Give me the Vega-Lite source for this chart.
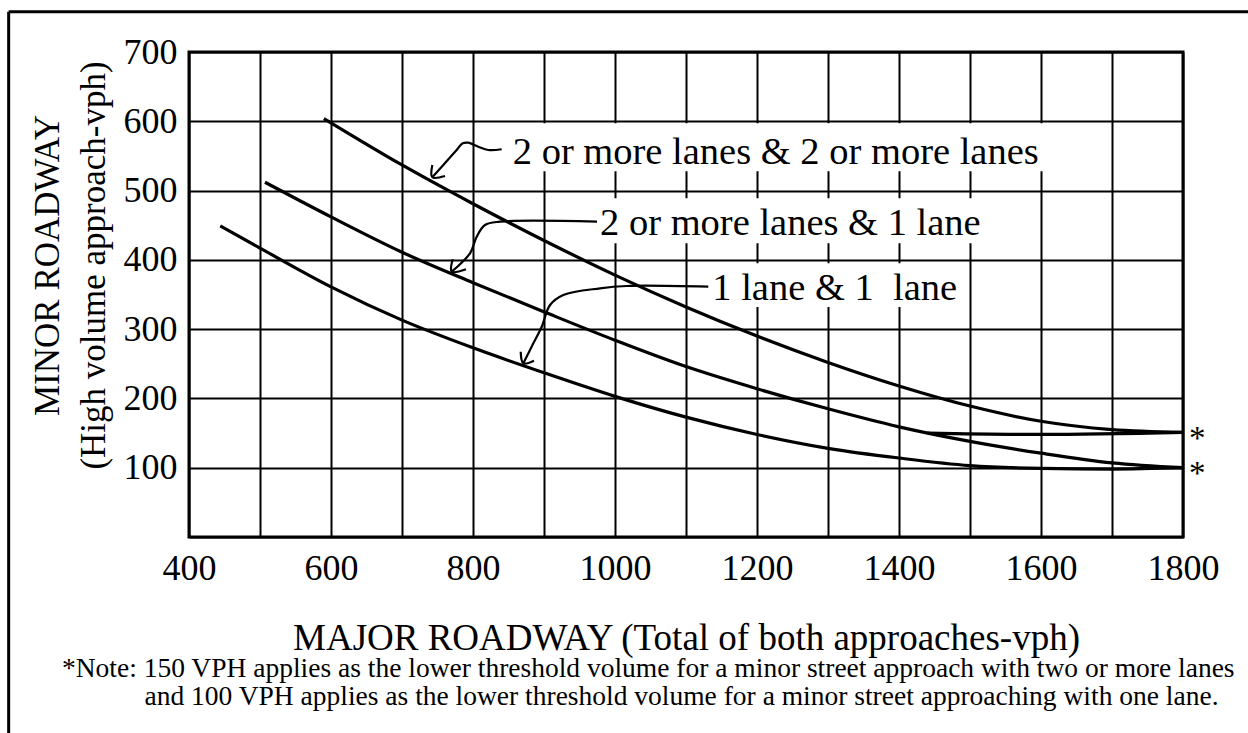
{
  "$schema": "https://vega.github.io/schema/vega-lite/v6.json",
  "width": 994,
  "height": 485,
  "autosize": {"type": "none"},
  "padding": {"left": 189, "top": 52, "right": 65, "bottom": 196},
  "background": "white",
  "config": {
    "view": {"stroke": "black", "strokeWidth": 3},
    "font": "Liberation Serif",
    "axis": {"labelFont": "Liberation Serif", "titleFont": "Liberation Serif", "labelColor": "black", "titleColor": "black", "titleFontWeight": "normal", "grid": true, "gridColor": "black", "gridWidth": 2, "gridOpacity": 1, "ticks": false, "domain": false, "labelFlush": false, "labelOverlap": false}
  },
  "title": {
    "text": ["*Note: 150 VPH applies as the lower threshold volume for a minor street approach with two or more lanes", "\u200b\u00a0\u00a0\u00a0\u00a0\u00a0\u00a0\u00a0\u00a0\u00a0\u00a0\u00a0\u00a0and 100 VPH applies as the lower threshold volume for a minor street approaching with one lane."],
    "orient": "bottom",
    "anchor": "start",
    "frame": "group",
    "dx": -127,
    "offset": -80,
    "font": "Liberation Serif",
    "fontSize": 27.5,
    "fontWeight": "normal",
    "color": "black",
    "lineHeight": 28
  },
  "datasets": {
    "curves": [
      {"s": "2+&2+", "x": 590, "y": 604}, {"s": "2+&2+", "x": 700, "y": 537}, {"s": "2+&2+", "x": 800, "y": 481}, {"s": "2+&2+", "x": 900, "y": 428}, {"s": "2+&2+", "x": 1000, "y": 378}, {"s": "2+&2+", "x": 1100, "y": 332}, {"s": "2+&2+", "x": 1200, "y": 290}, {"s": "2+&2+", "x": 1300, "y": 252}, {"s": "2+&2+", "x": 1400, "y": 218}, {"s": "2+&2+", "x": 1500, "y": 189}, {"s": "2+&2+", "x": 1600, "y": 167}, {"s": "2+&2+", "x": 1700, "y": 155}, {"s": "2+&2+", "x": 1800, "y": 151},
      {"s": "2+&1", "x": 507, "y": 512}, {"s": "2+&1", "x": 600, "y": 462}, {"s": "2+&1", "x": 700, "y": 411}, {"s": "2+&1", "x": 800, "y": 367}, {"s": "2+&1", "x": 900, "y": 325}, {"s": "2+&1", "x": 1000, "y": 284}, {"s": "2+&1", "x": 1100, "y": 246}, {"s": "2+&1", "x": 1200, "y": 214}, {"s": "2+&1", "x": 1300, "y": 185}, {"s": "2+&1", "x": 1400, "y": 159}, {"s": "2+&1", "x": 1500, "y": 138}, {"s": "2+&1", "x": 1600, "y": 121}, {"s": "2+&1", "x": 1700, "y": 107}, {"s": "2+&1", "x": 1800, "y": 100},
      {"s": "1&1", "x": 444, "y": 449}, {"s": "1&1", "x": 500, "y": 417}, {"s": "1&1", "x": 600, "y": 361}, {"s": "1&1", "x": 700, "y": 313}, {"s": "1&1", "x": 800, "y": 273}, {"s": "1&1", "x": 900, "y": 237}, {"s": "1&1", "x": 1000, "y": 203}, {"s": "1&1", "x": 1100, "y": 173}, {"s": "1&1", "x": 1200, "y": 148}, {"s": "1&1", "x": 1300, "y": 128}, {"s": "1&1", "x": 1400, "y": 114}, {"s": "1&1", "x": 1500, "y": 103}, {"s": "1&1", "x": 1600, "y": 99}, {"s": "1&1", "x": 1700, "y": 98}, {"s": "1&1", "x": 1800, "y": 100},
      {"s": "min150", "x": 1440, "y": 150}, {"s": "min150", "x": 1600, "y": 148}, {"s": "min150", "x": 1800, "y": 151}
    ],
    "leaders": [
      {"a": "L1", "i": 1, "x": 840.4, "y": 559.6}, {"a": "L1", "i": 2, "x": 821.5, "y": 558.6}, {"a": "L1", "i": 3, "x": 807.5, "y": 563.3}, {"a": "L1", "i": 4, "x": 793.4, "y": 569.1}, {"a": "L1", "i": 5, "x": 785.5, "y": 568.2}, {"a": "L1", "i": 6, "x": 777.0, "y": 558.6}, {"a": "L1", "i": 7, "x": 758.2, "y": 536.9}, {"a": "L1", "i": 8, "x": 742.7, "y": 519.2},
      {"a": "H1", "i": 1, "x": 742.7, "y": 536.9}, {"a": "H1", "i": 2, "x": 742.7, "y": 519.2}, {"a": "H1", "i": 3, "x": 760.6, "y": 521.0},
      {"a": "L2", "i": 1, "x": 974.7, "y": 455.1}, {"a": "L2", "i": 2, "x": 838.0, "y": 455.1}, {"a": "L2", "i": 3, "x": 816.9, "y": 450.3}, {"a": "L2", "i": 4, "x": 805.2, "y": 433.4}, {"a": "L2", "i": 5, "x": 795.8, "y": 409.5}, {"a": "L2", "i": 6, "x": 770.0, "y": 382.9},
      {"a": "H2", "i": 1, "x": 771.4, "y": 400.8}, {"a": "H2", "i": 2, "x": 770.0, "y": 382.9}, {"a": "H2", "i": 3, "x": 790.1, "y": 386.4},
      {"a": "L3", "i": 1, "x": 1131.4, "y": 361.3}, {"a": "L3", "i": 2, "x": 1016.5, "y": 362.3}, {"a": "L3", "i": 3, "x": 978.9, "y": 358.9}, {"a": "L3", "i": 4, "x": 927.2, "y": 349.3}, {"a": "L3", "i": 5, "x": 908.5, "y": 334.8}, {"a": "L3", "i": 6, "x": 896.8, "y": 303.5}, {"a": "L3", "i": 7, "x": 885.0, "y": 279.6}, {"a": "L3", "i": 8, "x": 870.9, "y": 250.7},
      {"a": "H3", "i": 1, "x": 867.2, "y": 267.4}, {"a": "H3", "i": 2, "x": 870.9, "y": 250.7}, {"a": "H3", "i": 3, "x": 885.9, "y": 254.5}
    ],
    "boxes": [
      {"x": 846, "x2": 1615, "y": 528, "y2": 597},
      {"x": 978, "x2": 1535, "y": 424, "y2": 489},
      {"x": 1133, "x2": 1492, "y": 332, "y2": 395}
    ],
    "labels": [
      {"text": "2 or more lanes & 2 or more lanes", "x": 856, "y": 556},
      {"text": "2 or more lanes & 1 lane", "x": 979, "y": 453},
      {"text": "1 lane & 1\u00a0 lane", "x": 1137, "y": 359}
    ],
    "stars": [
      {"x": 1800, "y": 150}, {"x": 1800, "y": 100}
    ]
  },
  "layer": [
    {
      "data": {"name": "boxes"},
      "mark": {"type": "rect", "fill": "white", "stroke": null},
      "encoding": {
        "x": {"field": "x", "type": "quantitative"},
        "x2": {"field": "x2"},
        "y": {"field": "y", "type": "quantitative"},
        "y2": {"field": "y2"}
      }
    },
    {
      "data": {"name": "curves"},
      "mark": {"type": "line", "interpolate": "monotone", "color": "black", "strokeWidth": 3.2},
      "encoding": {
        "x": {
          "field": "x", "type": "quantitative",
          "scale": {"domain": [400, 1800], "nice": false, "zero": false},
          "axis": {
            "values": [400, 500, 600, 700, 800, 900, 1000, 1100, 1200, 1300, 1400, 1500, 1600, 1700, 1800],
            "format": "d",
            "labelExpr": "datum.value % 200 == 0 ? datum.label : ''",
            "labelFontSize": 36,
            "labelPadding": 14,
            "title": "MAJOR ROADWAY (Total of both approaches-vph)",
            "titleFontSize": 37,
            "titlePadding": 34
          }
        },
        "y": {
          "field": "y", "type": "quantitative",
          "scale": {"domain": [0, 700], "nice": false, "zero": false},
          "axis": {
            "values": [0, 100, 200, 300, 400, 500, 600, 700],
            "format": "d",
            "labelExpr": "datum.value == 0 ? '' : datum.label",
            "labelFontSize": 36,
            "labelPadding": 12,
            "title": ["MINOR ROADWAY", "(High volume approach-vph)"],
            "titleFontSize": 35,
            "titleLineHeight": 46,
            "titlePadding": 12,
            "titleY": 213
          }
        },
        "detail": {"field": "s", "type": "nominal"}
      }
    },
    {
      "data": {"name": "leaders"},
      "mark": {"type": "line", "interpolate": "catmull-rom", "color": "black", "strokeWidth": 2.2},
      "encoding": {
        "x": {"field": "x", "type": "quantitative"},
        "y": {"field": "y", "type": "quantitative"},
        "detail": {"field": "a", "type": "nominal"},
        "order": {"field": "i", "type": "quantitative"}
      }
    },
    {
      "data": {"name": "labels"},
      "mark": {"type": "text", "align": "left", "baseline": "middle", "font": "Liberation Serif", "fontSize": 38.5, "color": "black"},
      "encoding": {
        "x": {"field": "x", "type": "quantitative"},
        "y": {"field": "y", "type": "quantitative"},
        "text": {"field": "text", "type": "nominal"}
      }
    },
    {
      "data": {"name": "stars"},
      "mark": {"type": "text", "text": "*", "align": "left", "baseline": "alphabetic", "dx": 6, "dy": 16, "font": "Liberation Serif", "fontSize": 33, "color": "black"},
      "encoding": {
        "x": {"field": "x", "type": "quantitative"},
        "y": {"field": "y", "type": "quantitative"}
      }
    },
    {
      "data": {"values": [{"edge": "left"}]},
      "mark": {"type": "rule", "color": "black", "strokeWidth": 3, "clip": false},
      "encoding": {
        "x": {"datum": 146, "type": "quantitative"},
        "y": {"datum": 758, "type": "quantitative"},
        "y2": {"datum": -283}
      }
    },
    {
      "data": {"values": [{"edge": "top"}]},
      "mark": {"type": "rule", "color": "black", "strokeWidth": 3, "clip": false},
      "encoding": {
        "x": {"datum": 146, "type": "quantitative"},
        "x2": {"datum": 1915},
        "y": {"datum": 758, "type": "quantitative"}
      }
    }
  ]
}
